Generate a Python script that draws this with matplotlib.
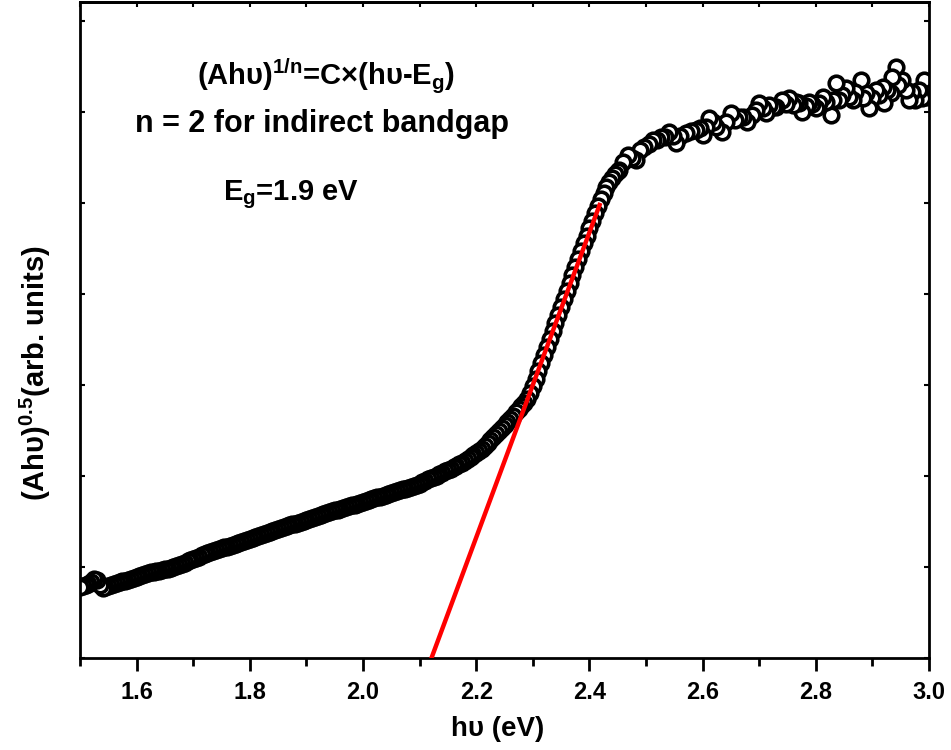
import numpy as np
import matplotlib
matplotlib.use("Agg")
import matplotlib.pyplot as plt
from matplotlib.ticker import MultipleLocator, NullFormatter, FormatStrFormatter

plt.rcParams['font.family'] = ['Liberation Sans', 'DejaVu Sans']
plt.rcParams['font.weight'] = 'bold'
plt.rcParams['mathtext.fontset'] = 'custom'
plt.rcParams['mathtext.rm'] = 'Liberation Sans:bold'
plt.rcParams['mathtext.it'] = 'Liberation Sans:bold'
plt.rcParams['mathtext.bf'] = 'Liberation Sans:bold'
plt.rcParams['mathtext.default'] = 'rm'

h_dense = [
    71, 72, 73, 74, 76, 79, 78, 73, 70, 71,
    72, 73, 74, 75, 76, 77, 77, 78, 79, 80,
    81, 82, 83, 84, 85, 86, 86, 87, 87, 88,
    89, 89, 90, 91, 92, 93, 94, 95, 97, 98,
    99, 100, 101, 103, 104, 105, 106, 107, 108, 109,
    110, 111, 111, 112, 113, 114, 115, 116, 117, 118,
    119, 120, 121, 122, 123, 124, 125, 126, 127, 128,
    129, 130, 131, 132, 133, 134, 134, 135, 136, 137,
    138, 139, 140, 141, 142, 143, 144, 145, 146, 147,
    148, 148, 149, 150, 151, 152, 153, 153, 154, 155,
    156, 157, 158, 159, 160, 161, 161, 162, 163, 164,
    165, 166, 167, 168, 169, 169, 170, 171, 172, 173,
    174, 176, 177, 179, 180, 181, 182, 184, 185, 187,
    188, 189, 191, 192, 194, 195, 197, 199, 201, 203,
    205, 207, 209, 212, 215, 218, 221, 224, 227, 230,
    233, 236, 239, 242, 246, 249, 252, 255, 259, 265,
    272, 279, 287, 295, 303, 311, 319, 327, 335, 343,
    351, 359, 367, 375, 383, 391, 399, 407, 415, 422,
    430, 437, 445, 452, 459, 465, 471, 476, 480, 484,
    487,
]
e_dense = np.round(1.50 + 0.005 * np.arange(len(h_dense)), 3)

# noisy high-energy part
e_high = [2.453, 2.460, 2.468, 2.475, 2.482, 2.490, 2.497, 2.505, 2.512, 2.520,
          2.527, 2.534, 2.541, 2.547, 2.553, 2.560, 2.571, 2.580, 2.588, 2.595,
          2.600, 2.606, 2.612, 2.618, 2.624, 2.635, 2.642, 2.650, 2.658, 2.665,
          2.672, 2.679, 2.688, 2.694, 2.700, 2.706, 2.712, 2.718, 2.724, 2.730,
          2.741, 2.747, 2.753, 2.759, 2.765, 2.770, 2.776, 2.782, 2.788, 2.794,
          2.800, 2.806, 2.812, 2.818, 2.826, 2.830, 2.835, 2.841, 2.847, 2.853,
          2.859, 2.865, 2.870, 2.879, 2.883, 2.888, 2.894, 2.900, 2.906, 2.912,
          2.918, 2.921, 2.926, 2.932, 2.935, 2.941, 2.946, 2.953, 2.959, 2.965,
          2.970, 2.976, 2.982, 2.987, 2.991, 2.994, 2.998]
h_high = [488, 496, 503, 500, 498, 508, 511, 514, 518, 518,
          521, 521, 526, 522, 515, 522, 525, 527, 528, 530,
          523, 531, 540, 536, 531, 526, 536, 545, 538, 541,
          541, 536, 543, 548, 555, 550, 545, 553, 551, 551,
          558, 554, 560, 553, 556, 555, 546, 552, 556, 554,
          550, 555, 561, 556, 543, 558, 575, 558, 563, 570,
          561, 558, 566, 578, 560, 565, 550, 560, 568, 563,
          571, 555, 568, 565, 581, 591, 573, 578, 568, 558,
          566, 558, 568, 560, 578, 561, 570]

# linear fit drawn in red
fit_e = [2.121, 2.418]
fit_h = [0, 453]

energy = np.concatenate([e_dense, e_high])
signal = np.concatenate([h_dense, h_high])

fig = plt.figure(figsize=(9.51, 7.5), dpi=100)
ax = fig.add_axes([80/951, 92/750, 849/951, 656/750])

# high energy first so the low-energy points sit on top
ax.plot(energy[::-1], signal[::-1], linestyle='none', marker='o', ms=10.5,
        mfc='white', mec='black', mew=2.6, zorder=2)
ax.plot(fit_e, fit_h, color='red', lw=3.2, zorder=3)

ax.set_xlim(1.5, 3.0)
ax.set_ylim(0, 656)

ax.xaxis.set_major_locator(MultipleLocator(0.2))
ax.xaxis.set_minor_locator(MultipleLocator(0.1))
ax.xaxis.set_major_formatter(FormatStrFormatter('%.1f'))
ax.yaxis.set_major_locator(MultipleLocator(91))
ax.yaxis.set_major_formatter(NullFormatter())

for s in ax.spines.values():
    s.set_linewidth(2)

ax.tick_params(axis='x', which='major', direction='out', length=9.5, width=2,
               labelsize=17, pad=7)
ax.tick_params(axis='x', which='minor', direction='out', length=5.5, width=2)
ax.tick_params(axis='y', which='major', direction='in', length=3.5, width=1.5,
               left=True, right=True)

top = ax.secondary_xaxis('top')
top.xaxis.set_major_locator(MultipleLocator(0.1))
top.xaxis.set_major_formatter(NullFormatter())
top.tick_params(direction='in', length=3.5, width=1.5)
top.spines['top'].set_linewidth(2)

ax.set_xlabel('hυ (eV)', fontsize=20, fontweight='bold')
ax.xaxis.set_label_coords(0.492, -0.088)
ax.set_ylabel(r'$(Ahυ)^{0.5}$(arb. units)', fontsize=21, fontweight='bold')
ax.yaxis.set_label_coords(-0.032, 0.434)

ax.text(0.29, 0.873, '$(Ahυ)^{1/n}$=C×(hυ-$E_g$)', transform=ax.transAxes,
        ha='center', va='baseline', fontsize=21, fontweight='bold')
ax.text(0.285, 0.802, 'n = 2 for indirect bandgap', transform=ax.transAxes,
        ha='center', va='baseline', fontsize=22, fontweight='bold')
ax.text(0.168, 0.698, '$E_g$=1.9 eV', transform=ax.transAxes,
        ha='left', va='baseline', fontsize=21, fontweight='bold')

fig.savefig('out.png', dpi=100)
